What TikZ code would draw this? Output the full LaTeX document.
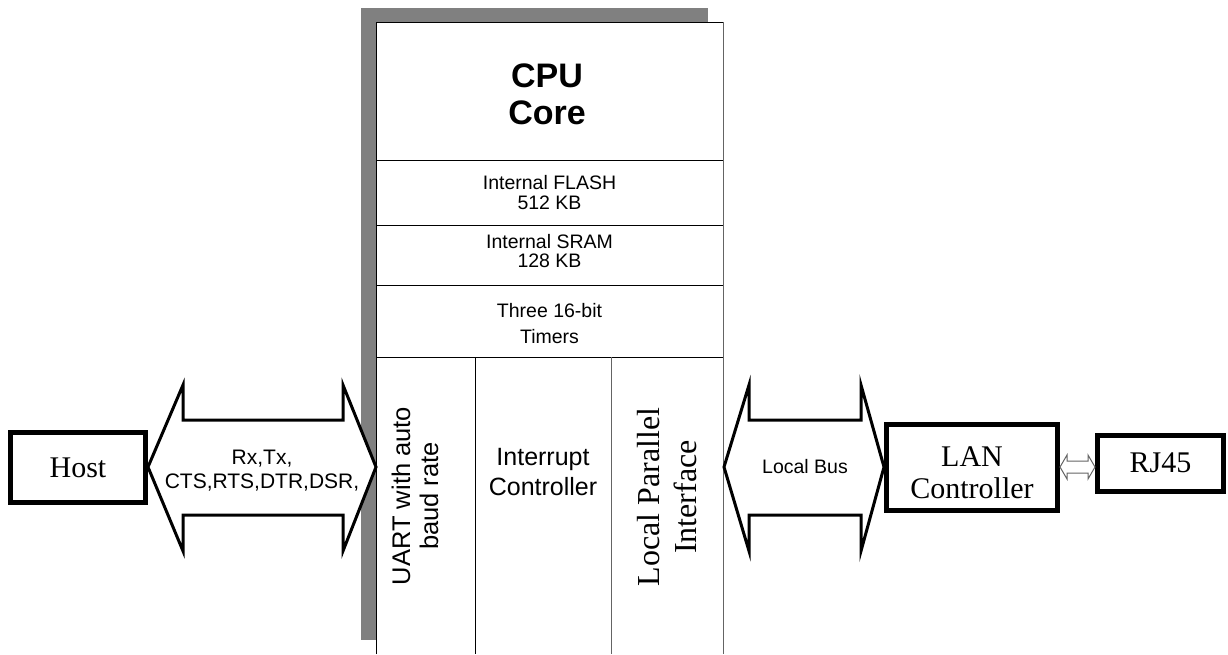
\documentclass[tikz,border=0pt]{standalone}
\usepackage{fontspec}
\setmainfont{Liberation Serif}
\newfontfamily\arialf{Liberation Sans}
\definecolor{shadowgray}{RGB}{128,128,128}
\definecolor{linegray}{RGB}{100,100,100}
\begin{document}
\begin{tikzpicture}[x=1pt,y=-1pt,
  thickbox/.style={draw=black, line width=5pt, fill=white, inner sep=0pt, align=center},
  blockarrow/.style={draw=black, line width=3pt, fill=white, line join=miter},
  smallarrow/.style={draw=linegray, line width=1pt, fill=white, line join=miter},
  cell/.style={draw=black, line width=1pt},
  sanslabel/.style={align=center, inner sep=0pt},
  serif30/.style={font=\fontsize{30}{34}\selectfont}
]
\useasboundingbox (0,0) rectangle (1228,654);
% shadow and CPU block
\fill[shadowgray] (361,8) rectangle (708,640);
\fill[white] (376,22) rectangle (723,654);
\draw[cell] (376,654) -- (376,22) -- (723,22);
\draw[draw=linegray, line width=1pt] (723,22) -- (723,654);
\foreach \yy in {160,225,285,357} \draw[cell] (376,\yy) -- (723,\yy);
\draw[cell] (475,357) -- (475,654);
\draw[draw=linegray, line width=1pt] (611,357) -- (611,654);
% block texts
\node[sanslabel, font=\arialf\bfseries\fontsize{34}{37}\selectfont] (cpu) at (547,94) {CPU\\Core};
\node[sanslabel, font=\arialf\fontsize{19.5}{20}\selectfont] (flash) at (549.5,193) {Internal FLASH\\512 KB};
\node[sanslabel, font=\arialf\fontsize{19.5}{19}\selectfont] (sram) at (549.5,251) {Internal SRAM\\128 KB};
\node[sanslabel, font=\arialf\fontsize{19.5}{26}\selectfont] (timers) at (549.5,324) {Three 16-bit\\Timers};
\node[sanslabel, rotate=90, font=\arialf\fontsize{25.5}{28}\selectfont] (uart) at (415,496) {UART with auto\\baud rate};
\node[sanslabel, font=\arialf\fontsize{25}{30}\selectfont] (intr) at (543,472) {Interrupt\\Controller};
\node[sanslabel, rotate=90, font=\fontsize{32}{37}\selectfont] (lpi) at (667,497) {Local Parallel\\Interface};
% outer boxes
\node[thickbox, minimum width=135pt, minimum height=70pt, serif30] (host) at (78,467.5) {Host};
\node[thickbox, minimum width=171pt, minimum height=86pt] (lan) at (972,467.5) {};
\node[sanslabel, font=\fontsize{30}{32}\selectfont] (lantext) at (972,473) {LAN\\Controller};
\node[thickbox, minimum width=126pt, minimum height=56pt, serif30] (rj) at (1160.5,463) {RJ45};
% left bus arrow (Host <-> UART)
\coordinate (uartin) at (376,467);
\draw[blockarrow] (host.east |- uartin) -- (183,385) -- (183,420) -- (343,420) -- (343,385)
  -- (uartin) -- (343,551) -- (343,515) -- (183,515) -- (183,551) -- cycle;
\node[sanslabel, font=\arialf\fontsize{21}{24}\selectfont] (sig) at (262,471) {Rx,Tx,\\CTS,RTS,DTR,DSR,};
% right bus arrow (LPI <-> LAN)
\coordinate (lbL) at (724,467);
\draw[blockarrow] (lbL) -- (749,385) -- (749,420) -- (861,420) -- (861,385)
  -- (lan.west |- lbL) -- (861,551) -- (861,515) -- (749,515) -- (749,551) -- cycle;
\node[sanslabel, font=\arialf\fontsize{19.5}{22}\selectfont] (lbus) at (805,467) {Local Bus};
% small arrow LAN <-> RJ45
\coordinate (sm) at (0,467);
\draw[smallarrow] (lan.east |- sm) -- (1067,455) -- (1067,461) -- (1088,461) -- (1088,455)
  -- (rj.west |- sm) -- (1088,479) -- (1088,473) -- (1067,473) -- (1067,479) -- cycle;
\end{tikzpicture}
\end{document}
